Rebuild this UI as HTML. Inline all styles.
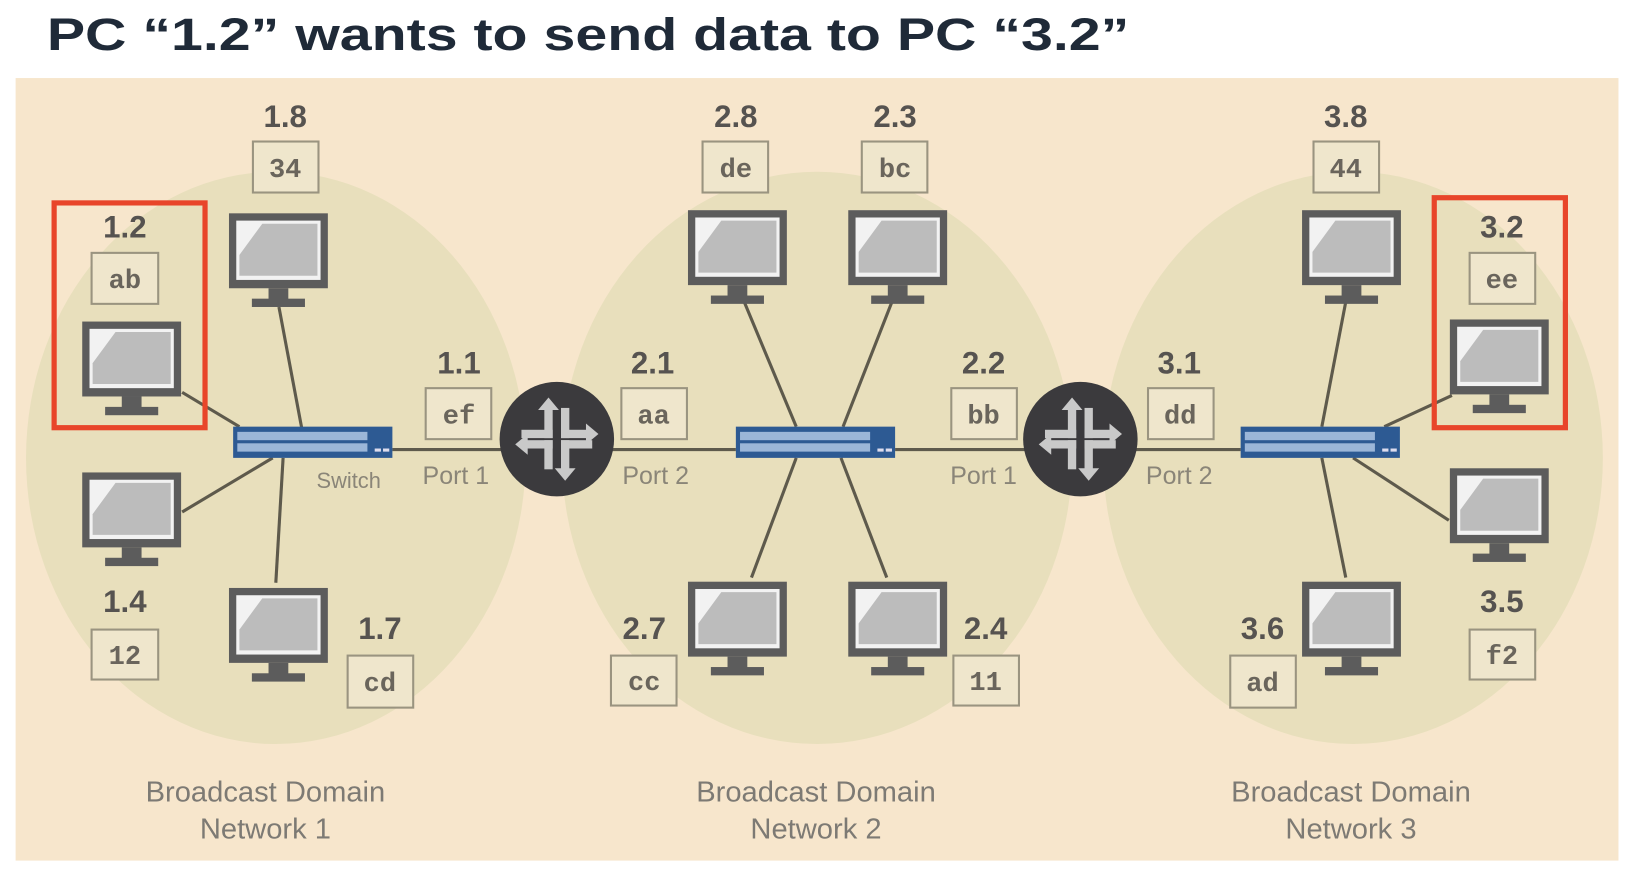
<!DOCTYPE html>
<html><head><meta charset="utf-8"><style>
html,body{margin:0;padding:0;background:#fff;}
svg{display:block;}
</style></head><body>
<svg width="1632" height="871" viewBox="0 0 1568 837" preserveAspectRatio="none" xmlns="http://www.w3.org/2000/svg">
<defs>
<g id="mon">
<rect x="0" y="0" width="95" height="72" fill="#5c5c5c"/>
<rect x="7" y="7" width="81" height="57" fill="#f2f2f2"/>
<polygon points="10,60 10,40 32,10 85,10 85,60" fill="#bcbcbc"/>
<rect x="38" y="72" width="19" height="11" fill="#5c5c5c"/>
<rect x="22" y="82" width="51" height="8" fill="#5c5c5c"/>
</g>
<g id="sw">
<rect x="0" y="0" width="153" height="30" fill="#2d5a93"/>
<rect x="4" y="5" width="125" height="8" fill="#9bb6d8"/>
<rect x="4" y="16" width="125" height="8" fill="#9bb6d8"/>
<rect x="136" y="21" width="6" height="3" fill="#dde"/>
<rect x="144" y="21" width="6" height="3" fill="#dde"/>
</g>
<g id="rt">
<circle cx="0" cy="0" r="55" fill="#3b3a3d"/>
<g fill="#c9c9c9">
<rect x="-34" y="-9" width="30" height="8"/><rect x="-12" y="-30" width="8" height="29"/>
<polygon points="-18,-28 -8,-40 2,-28"/>
<rect x="4" y="-30" width="8" height="29"/><rect x="4" y="-9" width="26" height="8"/>
<polygon points="28,-15 40,-5 28,5"/>
<rect x="-30" y="1" width="26" height="8"/><rect x="-12" y="1" width="8" height="28"/>
<polygon points="-28,-5 -40,5 -28,15"/>
<rect x="4" y="1" width="30" height="8"/><rect x="4" y="1" width="8" height="28"/>
<polygon points="-2,28 8,40 18,28"/>
</g>
</g>
</defs>
<text x="45" y="48" font-family="Liberation Sans, sans-serif" font-weight="bold" font-size="44" fill="#1f2a38" textLength="1040" lengthAdjust="spacingAndGlyphs">PC “1.2” wants to send data to PC “3.2”</text>
<rect x="15" y="75" width="1540" height="752" fill="#f7e6cc"/>
<ellipse cx="265" cy="440" rx="240" ry="275" fill="#e8dfbc"/>
<ellipse cx="785" cy="440" rx="245" ry="275" fill="#e8dfbc"/>
<ellipse cx="1300" cy="440" rx="240" ry="275" fill="#e8dfbc"/>
<g stroke="#5e5a4c" stroke-width="3">
<line x1="377" y1="432" x2="707" y2="432"/><line x1="860" y1="432" x2="1192" y2="432"/>
<line x1="268" y1="295" x2="290" y2="412"/><line x1="175" y1="377" x2="230" y2="410"/>
<line x1="175" y1="492" x2="262" y2="440"/><line x1="265" y1="560" x2="272" y2="440"/>
<line x1="715" y1="290" x2="765" y2="410"/><line x1="857" y1="290" x2="810" y2="410"/>
<line x1="722" y1="555" x2="765" y2="440"/><line x1="852" y1="555" x2="808" y2="440"/>
<line x1="1293" y1="290" x2="1270" y2="410"/><line x1="1395" y1="380" x2="1330" y2="410"/>
<line x1="1392" y1="500" x2="1300" y2="440"/><line x1="1293" y1="555" x2="1270" y2="440"/>
</g>
<use href="#mon" x="220" y="205"/><use href="#mon" x="79" y="309"/><use href="#mon" x="79" y="454"/><use href="#mon" x="220" y="565"/>
<use href="#mon" x="661" y="202"/><use href="#mon" x="815" y="202"/><use href="#mon" x="661" y="559"/><use href="#mon" x="815" y="559"/>
<use href="#mon" x="1251" y="202"/><use href="#mon" x="1393" y="307"/><use href="#mon" x="1393" y="450"/><use href="#mon" x="1251" y="559"/>
<use href="#sw" x="224" y="410"/><use href="#sw" x="707" y="410"/><use href="#sw" x="1192" y="410"/>
<use href="#rt" x="535" y="422"/><use href="#rt" x="1038" y="422"/>
<g font-family="Liberation Sans, sans-serif" font-weight="bold" font-size="30" fill="#565350" text-anchor="middle">
<text x="274" y="122">1.8</text><text x="120" y="228">1.2</text><text x="120" y="588">1.4</text><text x="365" y="614">1.7</text>
<text x="441" y="359">1.1</text><text x="627" y="359">2.1</text><text x="707" y="122">2.8</text><text x="860" y="122">2.3</text>
<text x="619" y="614">2.7</text><text x="947" y="614">2.4</text><text x="945" y="359">2.2</text><text x="1133" y="359">3.1</text>
<text x="1293" y="122">3.8</text><text x="1443" y="228">3.2</text><text x="1443" y="588">3.5</text><text x="1213" y="614">3.6</text>
</g>
<g fill="#efe6cc" stroke="#9a9480" stroke-width="2">
<rect x="243" y="136" width="63" height="49"/><rect x="88" y="243" width="64" height="49"/><rect x="88" y="605" width="64" height="48"/><rect x="334" y="630" width="63" height="50"/>
<rect x="409" y="373" width="63" height="49"/><rect x="597" y="373" width="63" height="49"/><rect x="675" y="136" width="63" height="49"/><rect x="828" y="136" width="63" height="49"/>
<rect x="587" y="630" width="63" height="48"/><rect x="916" y="630" width="63" height="48"/><rect x="914" y="373" width="63" height="49"/><rect x="1103" y="373" width="63" height="49"/>
<rect x="1262" y="136" width="63" height="49"/><rect x="1412" y="243" width="63" height="49"/><rect x="1412" y="605" width="63" height="48"/><rect x="1182" y="630" width="63" height="50"/>
</g>
<g font-family="Liberation Mono, monospace" font-weight="bold" font-size="26" fill="#6a655c" text-anchor="middle">
<text x="274" y="170">34</text><text x="120" y="277">ab</text><text x="120" y="638">12</text><text x="365" y="664">cd</text>
<text x="441" y="407">ef</text><text x="628" y="407">aa</text><text x="707" y="170">de</text><text x="860" y="170">bc</text>
<text x="619" y="663">cc</text><text x="947" y="663">11</text><text x="945" y="407">bb</text><text x="1134" y="407">dd</text>
<text x="1293" y="170">44</text><text x="1443" y="277">ee</text><text x="1443" y="638">f2</text><text x="1213" y="664">ad</text>
</g>
<g fill="none" stroke="#e8452a" stroke-width="5">
<rect x="52" y="195" width="145" height="216"/><rect x="1378" y="190" width="126" height="221"/>
</g>
<g font-family="Liberation Sans, sans-serif" fill="#8a8578">
<text x="335" y="469" font-size="21" text-anchor="middle">Switch</text>
<text x="438" y="465" font-size="24" text-anchor="middle">Port 1</text>
<text x="630" y="465" font-size="24" text-anchor="middle">Port 2</text>
<text x="945" y="465" font-size="24" text-anchor="middle">Port 1</text>
<text x="1133" y="465" font-size="24" text-anchor="middle">Port 2</text>
</g>
<g font-family="Liberation Sans, sans-serif" font-size="28" fill="#7d7a74" text-anchor="middle">
<text x="255" y="770">Broadcast Domain</text><text x="255" y="806">Network 1</text>
<text x="784" y="770">Broadcast Domain</text><text x="784" y="806">Network 2</text>
<text x="1298" y="770">Broadcast Domain</text><text x="1298" y="806">Network 3</text>
</g>
</svg>
</body></html>
